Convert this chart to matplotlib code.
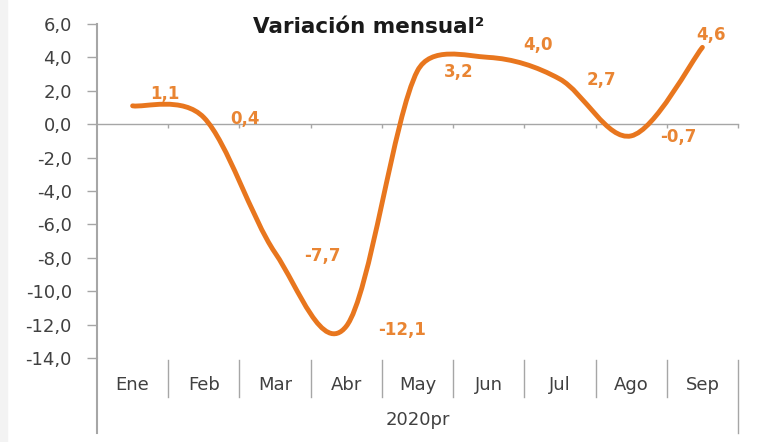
import numpy as np
import matplotlib
matplotlib.use("Agg")
import matplotlib.pyplot as plt
from matplotlib.path import Path
from matplotlib.patches import PathPatch, Rectangle
import matplotlib.transforms as mtrans

# datos
meses = ["Ene", "Feb", "Mar", "Abr", "May", "Jun", "Jul", "Ago", "Sep"]
variacion = [1.1, 0.4, -7.7, -12.1, 3.2, 4.0, 2.7, -0.7, 4.6]
etiquetas = ["1,1", "0,4", "-7,7", "-12,1", "3,2", "4,0", "2,7", "-0,7", "4,6"]
# desplazamiento de las etiquetas (pixeles)
desp = [(32, 12), (41, -1), (47, -3), (56, -4), (41, -1),
        (49, 12), (41, -1), (47, -1), (9, 12)]
yticks = np.arange(-14, 7, 2)

naranja = "#E8761E"
naranja_txt = "#E98533"
gris = "#A6A6A6"
texto = "#404040"

plt.rcParams['font.family'] = ['DejaVu Sans']

fig = plt.figure(figsize=(7.61, 4.42), dpi=100)
fig.patches.append(Rectangle((0, 0), 7 / 761, 1, transform=fig.transFigure,
                             color="#F3F3F3", zorder=0))
ax = fig.add_axes([97 / 761, 1 - 358 / 442, (738 - 97) / 761, (358 - 24) / 442])

x = np.arange(len(meses))
y = np.array(variacion)


def suavizar(x, y, sx=52.7, sy=16.7):
    """curva suavizada estilo Excel: bezier con tangentes recortadas"""
    px = np.concatenate([[x[0]], x, [x[-1]]])
    py = np.concatenate([[y[0]], y, [y[-1]]])
    P = np.column_stack([px * sx, py * sy])
    d = lambda a, b: np.hypot(*(P[a] - P[b]))
    verts = [(x[0], y[0])]
    codes = [Path.MOVETO]
    for i in range(1, len(px) - 2):
        d12 = d(i, i + 1)
        d02 = d(i - 1, i + 1)
        d13 = d(i, i + 2)
        f0 = 1 / 6 if d02 / 6 < d12 / 2 else d12 / d02 / 2
        f3 = 1 / 6 if d13 / 6 < d12 / 2 else d12 / d13 / 2
        c1 = P[i] + f0 * (P[i + 1] - P[i - 1])
        c2 = P[i + 1] - f3 * (P[i + 2] - P[i])
        for c in (c1, c2, P[i + 1]):
            verts.append((c[0] / sx, c[1] / sy))
        codes += [Path.CURVE4] * 3
    return Path(verts, codes)


ax.add_patch(PathPatch(suavizar(x, y), facecolor="none", edgecolor=naranja,
                       lw=3.5, capstyle="round", zorder=3))

for xi, yi, lab, (dx, dy) in zip(x, y, etiquetas, desp):
    ax.annotate(lab, (xi, yi), xytext=(dx, dy), textcoords="offset pixels",
                ha="center", va="center", color=naranja_txt, fontsize=12,
                fontweight="bold", zorder=4)

ax.set_xlim(-0.5, len(meses) - 0.5)
ax.set_ylim(-14, 6)
ax.set_yticks(yticks)
ax.set_yticklabels([f"{v:.1f}".replace(".", ",") for v in yticks],
                   fontsize=13, color=texto)
ax.tick_params(axis="y", direction="out", length=7, width=1, color=gris, pad=11)

ax.spines["top"].set_visible(False)
ax.spines["right"].set_visible(False)
ax.spines["left"].set_color(gris)
ax.spines["left"].set_linewidth(1.5)
ax.spines["bottom"].set_position(("data", 0))
ax.spines["bottom"].set_color(gris)
ax.spines["bottom"].set_linewidth(1.0)
ax.set_xticks(np.arange(-0.5, len(meses), 1.0)[1:])
ax.set_xticklabels([])
ax.tick_params(axis="x", direction="out", length=3, width=1, color=gris)

# eje de categorias de dos niveles
tr = mtrans.blended_transform_factory(ax.transData, ax.transAxes)
for xi, m in zip(x, meses):
    ax.text(xi, -0.08, m, transform=tr, ha="center", va="center",
            fontsize=13, color=texto)
for b in np.arange(0.5, len(meses) - 1, 1.0):
    ax.plot([b, b], [-0.006, -0.117], transform=tr, color=gris, lw=1.0,
            clip_on=False)
ax.plot([len(meses) - 0.5] * 2, [-0.006, -0.225], transform=tr, color=gris,
        lw=1.0, clip_on=False)
ax.plot([-0.5, -0.5], [0, -0.225], transform=tr, color=gris, lw=1.5,
        clip_on=False)
ax.text((len(meses) - 1) / 2, -0.185, "2020pr", transform=tr, ha="center",
        va="center", fontsize=13, color=texto)

ax.text(0.424, 0.991, "Variación mensual²", transform=ax.transAxes, ha="center",
        va="center", fontsize=15.5, fontweight="bold", color="#1A1A1A")

fig.savefig("out.png", dpi=100)
